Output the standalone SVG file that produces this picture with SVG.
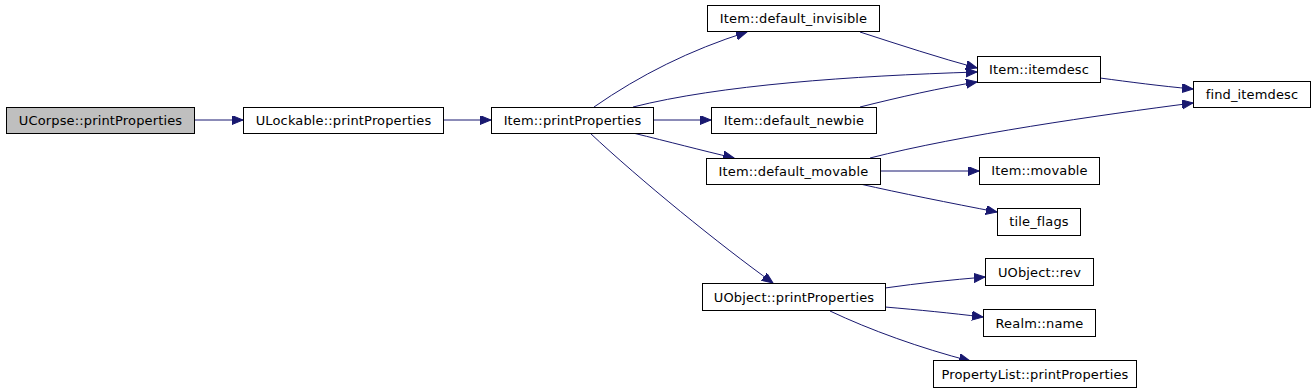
<svg xmlns="http://www.w3.org/2000/svg" width="1315" height="392" viewBox="0 0 1315 392">
<style>
.n rect{fill:#fff;stroke:#000;stroke-width:1}
.n.g rect{fill:#bfbfbf}
.n text{font-family:"DejaVu Sans",sans-serif;font-size:13px;letter-spacing:0.15px;fill:#000;text-anchor:middle}
.e path{fill:none;stroke:#191970;stroke-width:1;marker-end:url(#a)}
</style>
<defs>
<marker id="a" markerUnits="userSpaceOnUse" markerWidth="12" markerHeight="10" refX="11" refY="4.5" orient="auto">
<path d="M0,0 L11,4.5 L0,9 Z" fill="#191970" stroke="#191970"/>
</marker>
</defs>
<rect width="1315" height="392" fill="#fff"/>
<g class="e" id="connectors">
<path d="M194,120 L243,120"/>
<path d="M443,120 L491,120"/>
<path d="M594,107 C640,75 690,50 747,32"/>
<path d="M633,107 C720,85 850,76 977,72"/>
<path d="M653,120 L711,120"/>
<path d="M633,133 C670,142 700,150 734,158"/>
<path d="M590,133 C640,180 720,245 773,283"/>
<path d="M860,32 C900,45 940,58 977,68"/>
<path d="M860,107 C900,97 940,88 977,82"/>
<path d="M1100,78 C1130,82 1160,86 1193,89"/>
<path d="M870,158 C960,135 1100,115 1193,103"/>
<path d="M880,171 L979,171"/>
<path d="M860,184 C900,193 950,203 997,212"/>
<path d="M885,288 C920,283 950,280 985,277"/>
<path d="M885,307 C920,310 950,313 983,317"/>
<path d="M830,311 C870,330 920,348 970,361"/>
</g>
<g class="n g" id="node-ucorpse"><rect x="6.5" y="107.5" width="188" height="26"/><text x="100.5" y="125">UCorpse::printProperties</text></g>
<g class="n" id="node-ulockable"><rect x="243.5" y="107.5" width="200" height="26"/><text x="343.5" y="125">ULockable::printProperties</text></g>
<g class="n" id="node-item-pp"><rect x="491.5" y="107.5" width="162" height="26"/><text x="572.5" y="125">Item::printProperties</text></g>
<g class="n" id="node-def-invisible"><rect x="707.5" y="5.5" width="172" height="26"/><text x="793.5" y="23">Item::default_invisible</text></g>
<g class="n" id="node-def-newbie"><rect x="711.5" y="107.5" width="165" height="26"/><text x="794" y="125">Item::default_newbie</text></g>
<g class="n" id="node-def-movable"><rect x="706.5" y="158.5" width="174" height="26"/><text x="793.5" y="176">Item::default_movable</text></g>
<g class="n" id="node-itemdesc"><rect x="977.5" y="56.5" width="123" height="26"/><text x="1039" y="74">Item::itemdesc</text></g>
<g class="n" id="node-find-itemdesc"><rect x="1193.5" y="81.5" width="117" height="26"/><text x="1252" y="99">find_itemdesc</text></g>
<g class="n" id="node-movable"><rect x="979.5" y="157.5" width="120" height="27"/><text x="1039.5" y="175">Item::movable</text></g>
<g class="n" id="node-tile-flags"><rect x="997.5" y="208.5" width="83" height="27"/><text x="1039" y="226">tile_flags</text></g>
<g class="n" id="node-uobject-pp"><rect x="702.5" y="283.5" width="183" height="27"/><text x="794" y="302">UObject::printProperties</text></g>
<g class="n" id="node-uobject-rev"><rect x="985.5" y="258.5" width="108" height="27"/><text x="1039.5" y="277">UObject::rev</text></g>
<g class="n" id="node-realm-name"><rect x="983.5" y="309.5" width="112" height="27"/><text x="1039.5" y="328">Realm::name</text></g>
<g class="n" id="node-propertylist"><rect x="933.5" y="360.5" width="203" height="27"/><text x="1035" y="379">PropertyList::printProperties</text></g>
</svg>
